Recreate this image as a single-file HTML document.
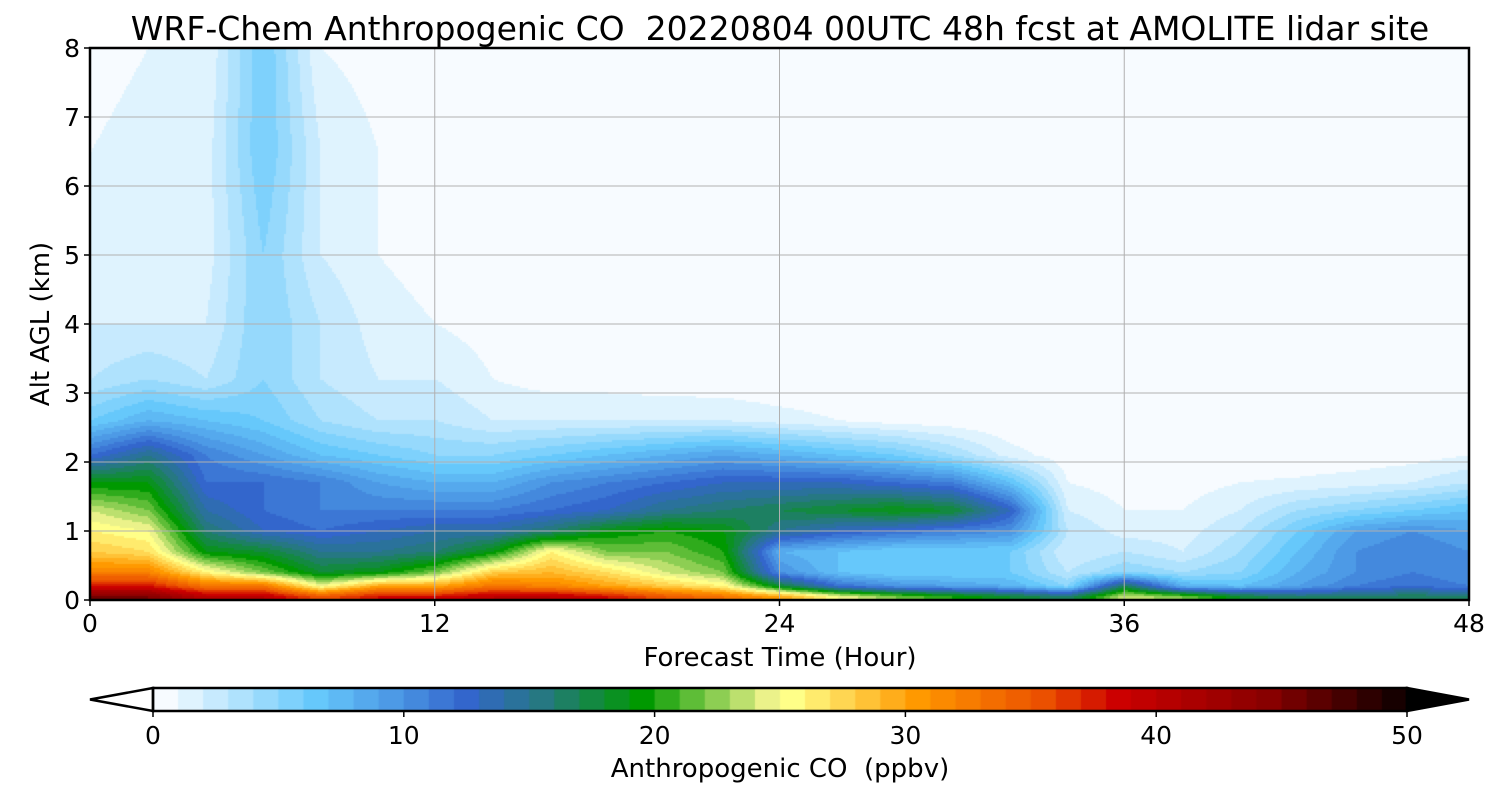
<!DOCTYPE html>
<html><head><meta charset="utf-8"><style>
body{margin:0;background:#fff;width:1500px;height:800px;overflow:hidden;font-family:"DejaVu Sans","Liberation Sans",sans-serif}
#wrap{position:relative;width:1500px;height:800px}
canvas{position:absolute}
svg{position:absolute;left:0;top:0}
text{white-space:pre}
</style></head><body>
<div id="wrap">
<canvas id="field" width="1379" height="552" style="left:90px;top:48px"></canvas>
<canvas id="cbar" width="1254" height="23" style="left:153px;top:688px"></canvas>
<svg id="ov" width="1500" height="800"></svg>
</div>
<script>
const times=[0,2,4,6,8,10,12,14,16,18,20,22,24,26,28,30,32,34,36,38,40,42,44,46,48];
const levels=[0.05,0.2,0.4,0.7,1.0,1.3,1.7,2.1,2.6,3.2,4,5,6.5,8];
const t0=[45,38,32,28,26,24,19,12,6,3,2,1,1,0.5];
const t2=[45,38,32,27,25,22,19,15,8,4,2,1.5,1.5,1];
const t4=[40,33,26,19,16,14,12,11,7,3,2,1.5,1.5,1];
const t6=[40,33,22,18,13,12,12,9,6,5,5,5,6,6];
const t8=[35,25,18,15,12,11,11,7,4,3,3,2,2,1];
const t10=[38,30,19,15,13,11,9,6,3,2,1.5,1,1,0.5];
const t12=[38,30,22,16,14,11,8,5,3,2,1,0.5,0.3,0];
const t14=[40,33,28,19,14,11,8,5,2,1,0.5,0,0,0];
const t16=[40,32,29,26,16,12,10,6,2,0.5,0,0,0,0];
const t18=[38,30,27,22,19,13,11,7,2,0.5,0,0,0,0];
const t20=[35,28,24,22,20,15,12,8,2,0.3,0,0,0,0];
const t22=[33,26,22,20,19,16,13,9,2,0.2,0,0,0,0];
const t24=[30,18,10,8,15,17,13,8,1.5,0,0,0,0,0];
const t26=[25,12,7,7,13,18,13,7,1,0,0,0,0,0];
const t28=[22,10,6,6,12,19,12,6,0.5,0,0,0,0,0];
const t30=[20,9,6,6,11,18,11,4,0.3,0,0,0,0,0];
const t32=[18,8,6,6,10,13,7,1.5,0,0,0,0,0,0];
const t34=[16,5,3,2,3,2,1,0.3,0,0,0,0,0,0];
const t36=[24,17,5,3,1.5,1,0.5,0.3,0,0,0,0,0,0];
const t38=[22,8,4,2,1.5,1,0.5,0.2,0,0,0,0,0,0];
const t40=[18,7,5,4,3,2,1,0.3,0,0,0,0,0,0];
const t42=[16,9,8,7,6,4,1.2,0.2,0,0,0,0,0,0];
const t44=[16,11,10,10,9,5,1.5,0.3,0,0,0,0,0,0];
const t46=[17,12,11,11,10,6,2,0.5,0,0,0,0,0,0];
const t48=[16,11,10,10,9,7,3,1,0,0,0,0,0,0];
const field=[t0,t2,t4,t6,t8,t10,t12,t14,t16,t18,t20,t22,t24,t26,t28,t30,t32,t34,t36,t38,t40,t42,t44,t46,t48];
const xTicks=[0,12,24,36,48];
const yTicks=[0,1,2,3,4,5,6,7,8];
const cbTicks=[0,10,20,30,40,50];

const stops=[[0,[247,251,255]],[6,[102,200,251]],[9,[77,154,230]],[12,[51,102,204]],[15,[38,120,130]],[19,[0,153,0]],[24,[235,242,138]],[25,[255,255,136]],[30,[255,153,0]],[35,[235,80,0]],[38,[204,0,0]],[44,[136,0,0]],[47,[68,0,0]],[50,[0,0,0]]];
function cmap(v){v=Math.max(0,Math.min(49.999,v));v=Math.floor(v);
 for(let i=0;i<stops.length-1;i++){const a=stops[i],b=stops[i+1];if(v<=b[0]){const f=(v-a[0])/(b[0]-a[0]);return a[1].map((c,k)=>Math.round(c+(b[1][k]-c)*f));}}return [0,0,0];}
const PL=90,PT=48,PW=1379,PH=552;
const xs=t=>PL+t/48*PW, ys=a=>PT+PH-a/8*PH;
function sample(t,a){
 let i=0;while(i<times.length-2&&t>times[i+1])i++;
 const ft=(t-times[i])/(times[i+1]-times[i]);
 let j=0;let aa=Math.max(levels[0],Math.min(levels[levels.length-1],a));
 while(j<levels.length-2&&aa>levels[j+1])j++;
 const fa=(aa-levels[j])/(levels[j+1]-levels[j]);
 const c=field[i],d=field[i+1];
 const v0=c[j]+(c[j+1]-c[j])*fa, v1=d[j]+(d[j+1]-d[j])*fa;
 return v0+(v1-v0)*ft;}
const fc=document.getElementById('field').getContext('2d');
const img=fc.createImageData(PW,PH);
for(let py=0;py<PH;py+=2){const a=(PH-py-1)/PH*8;
 for(let px=0;px<PW;px+=2){const t=px/PW*48;const col=cmap(sample(t,a));
  for(let dy=0;dy<2&&py+dy<PH;dy++)for(let dx=0;dx<2&&px+dx<PW;dx++){const k=((py+dy)*PW+px+dx)*4;img.data[k]=col[0];img.data[k+1]=col[1];img.data[k+2]=col[2];img.data[k+3]=255;}}}
fc.putImageData(img,0,0);
const cc=document.getElementById('cbar').getContext('2d');
for(let v=0;v<50;v++){const c=cmap(v);cc.fillStyle=`rgb(${c})`;cc.fillRect(v/50*1254,0,1254/50+1,23);}
const ov=document.getElementById('ov');const NS='http://www.w3.org/2000/svg';
function mk(tag,at,txt){const e=document.createElementNS(NS,tag);for(const k in at)e.setAttribute(k,at[k]);if(txt!==undefined)e.textContent=txt;ov.appendChild(e);return e;}
xTicks.forEach(t=>{if(t>0&&t<48){const g=mk('line',{x1:xs(t),x2:xs(t),y1:PT,y2:PT+PH,stroke:'#b0b0b0','stroke-width':1});}
 mk('line',{x1:xs(t),x2:xs(t),y1:PT+PH,y2:PT+PH+6,stroke:'#000','stroke-width':1.5});
 const l=mk('text',{x:xs(t),y:632,'font-size':25,'text-anchor':'middle'},t);});
yTicks.forEach(a=>{if(a>0&&a<8){const g=mk('line',{x1:PL,x2:PL+PW,y1:ys(a),y2:ys(a),stroke:'#b0b0b0','stroke-width':1});}
 mk('line',{x1:PL-6,x2:PL,y1:ys(a),y2:ys(a),stroke:'#000','stroke-width':1.5});
 const l=mk('text',{x:80,y:ys(a)+9,'font-size':25,'text-anchor':'end'},a);});
const fr=mk('rect',{x:PL,y:PT,width:PW,height:PH,fill:'none',stroke:'#000','stroke-width':2.5});
const ti=mk('text',{x:780,y:40,'font-size':33,'text-anchor':'middle'},'WRF-Chem Anthropogenic CO  20220804 00UTC 48h fcst at AMOLITE lidar site');
const xt=mk('text',{x:780,y:666,'font-size':26,'text-anchor':'middle'},'Forecast Time (Hour)');
const yt=mk('text',{x:0,y:0,'font-size':26,'text-anchor':'middle',transform:`translate(49,324) rotate(-90)`},'Alt AGL (km)');
const lt=mk('polygon',{points:'153,688 90,699.5 153,711',fill:'#fff',stroke:'#000','stroke-width':2.5});
const rt=mk('polygon',{points:'1407,688 1469,699.5 1407,711',fill:'#000',stroke:'#000','stroke-width':2.5});
mk('rect',{x:153,y:688,width:1254,height:23,fill:'none',stroke:'#000','stroke-width':2.5});
cbTicks.forEach(v=>{const x=153+v/50*1254;mk('line',{x1:x,x2:x,y1:711,y2:717,stroke:'#000','stroke-width':1.5});
 const l=mk('text',{x:x,y:744,'font-size':25,'text-anchor':'middle'},v);});
const ct=mk('text',{x:780,y:777,'font-size':26,'text-anchor':'middle'},'Anthropogenic CO  (ppbv)');
</script>
</body></html>
